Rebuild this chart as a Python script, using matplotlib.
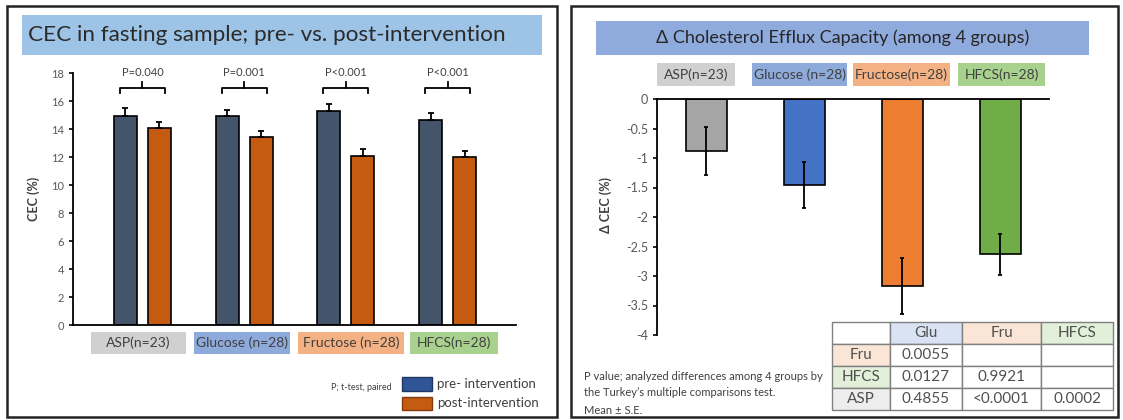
import numpy as np
import matplotlib
matplotlib.use("Agg")
import matplotlib.pyplot as plt
from matplotlib.patches import Rectangle

plt.rcParams["font.family"] = ["Lato", "DejaVu Sans"]

# =========================
# DATA - left panel (CEC, pre vs post)
# =========================
groups_left = ["ASP(n=23)", "Glucose (n=28)", "Fructose (n=28)", "HFCS(n=28)"]
pre_cec = [14.93, 14.93, 15.29, 14.64]
pre_se = [0.60, 0.45, 0.50, 0.50]
post_cec = [14.07, 13.43, 12.07, 12.00]
post_se = [0.45, 0.42, 0.50, 0.43]
p_paired = ["P=0.040", "P=0.001", "P<0.001", "P<0.001"]

# =========================
# DATA - right panel (delta CEC)
# =========================
groups_right = ["ASP(n=23)", "Glucose (n=28)", "Fructose(n=28)", "HFCS(n=28)"]
delta_cec = [-0.88, -1.46, -3.17, -2.63]
delta_se = [0.40, 0.39, 0.47, 0.35]

tbl_cols = ["Glu", "Fru", "HFCS"]
tbl_rows = ["Fru", "HFCS", "ASP"]
tbl_vals = [["0.0055", "", ""],
            ["0.0127", "0.9921", ""],
            ["0.4855", "<0.0001", "0.0002"]]

# colours
label_fill = ["#d0d0d0", "#8eaadb", "#f4b183", "#a9d18e"]
delta_colors = ["#a5a5a5", "#4472c4", "#ed7d31", "#70ad47"]
pre_color = "#44546a"
post_color = "#c55a11"
tick_grey = "#595959"
text_dark = "#404040"

# =========================
# FIGURE (pixel helpers)
# =========================
W, H = 1123, 420
fig = plt.figure(figsize=(W / 100, H / 100), dpi=100)


def fbox(x0, y0, x1, y1):
    return [x0 / W, 1 - y1 / H, (x1 - x0) / W, (y1 - y0) / H]


def rect(x0, y0, x1, y1, **kw):
    fig.patches.append(Rectangle((x0 / W, 1 - y1 / H), (x1 - x0) / W, (y1 - y0) / H,
                                 transform=fig.transFigure, **kw))


def ftext(x, y, s, **kw):
    fig.text(x / W, 1 - y / H, s, **kw)


# panel frames
rect(7, 6, 557, 417, fill=False, lw=1.8, ec="#222222")
rect(571, 6, 1118, 417, fill=False, lw=1.8, ec="#222222")

# =========================
# LEFT PANEL
# =========================
rect(22, 15, 542, 55, fc="#9dc3e6", ec="none")
ftext(28, 35, "CEC in fasting sample; pre- vs. post-intervention",
      fontsize=16.2, va="center", color="#2b2b2b")

ax1 = fig.add_axes(fbox(73, 73, 516, 325))
x = np.arange(len(groups_left))
off, bw = 0.167, 0.226
zeros = np.zeros(len(x))
ax1.bar(x - off, pre_cec, bw, color=pre_color, edgecolor="black", lw=1.2,
        yerr=[zeros, pre_se], capsize=2, error_kw=dict(elinewidth=1.3, capthick=1.3))
ax1.bar(x + off, post_cec, bw, color=post_color, edgecolor="black", lw=1.2,
        yerr=[zeros, post_se], capsize=2, error_kw=dict(elinewidth=1.3, capthick=1.3))

for i, p in enumerate(p_paired):
    xl, xr = i - 0.22, i + 0.22
    ax1.plot([xl, xl, xr, xr], [16.57, 16.93, 16.93, 16.57], color="black", lw=1.3, clip_on=False)
    ax1.plot([i, i], [16.93, 17.36], color="black", lw=1.3, clip_on=False)
    ax1.text(i, 18.0, p, ha="center", va="center", fontsize=8, color=text_dark)

ax1.set_xlim(-0.683, 3.673)
ax1.set_ylim(0, 18)
ax1.set_yticks(np.arange(0, 19, 2))
ax1.set_xticks([])
ax1.tick_params(axis="y", labelsize=8, labelcolor=tick_grey, length=3, width=1.2)
for s in ["top", "right"]:
    ax1.spines[s].set_visible(False)
for s in ["left", "bottom"]:
    ax1.spines[s].set_linewidth(1.3)
ax1.set_ylabel("CEC (%)", fontsize=9, color=text_dark, fontweight="bold")
ax1.yaxis.set_label_coords(-0.075, 0.5)

left_boxes = [(91, 186), (194, 290), (298, 404), (410, 498)]
for (bx0, bx1), lab, fc in zip(left_boxes, groups_left, label_fill):
    rect(bx0, 332, bx1, 354, fc=fc, ec="none")
    ftext((bx0 + bx1) / 2, 343, lab, ha="center", va="center", fontsize=10, color=text_dark)

# legend
rect(402, 377, 432, 391, fc="#2f5597", ec="#1f3864", lw=1)
rect(402, 397, 432, 410, fc=post_color, ec="#843c0c", lw=1)
ftext(437, 384, "pre- intervention", va="center", fontsize=9.5, color=text_dark)
ftext(437, 403, "post-intervention", va="center", fontsize=9.5, color=text_dark)
ftext(392, 387, "P; t-test, paired", ha="right", va="center", fontsize=6.5, color=text_dark)

# =========================
# RIGHT PANEL
# =========================
rect(596, 21, 1089, 55, fc="#8faadc", ec="none")
ftext(843, 38, "\u0394 Cholesterol Efflux Capacity (among 4 groups)",
      ha="center", va="center", fontsize=13, color="#262626")

right_boxes = [(657, 735), (752, 847), (853, 950), (958, 1045)]
for (bx0, bx1), lab, fc in zip(right_boxes, groups_right, label_fill):
    rect(bx0, 63, bx1, 86, fc=fc, ec="none")
    ftext((bx0 + bx1) / 2, 74.5, lab, ha="center", va="center", fontsize=10, color=text_dark)

ax2 = fig.add_axes(fbox(657, 99, 1049, 335))
x2 = np.arange(len(groups_right))
ax2.bar(x2, delta_cec, 0.41, color=delta_colors, edgecolor="black", lw=1.2,
        yerr=delta_se, capsize=1.5, error_kw=dict(elinewidth=1.3, capthick=1.3))
ax2.set_xlim(-0.505, 3.495)
ax2.set_ylim(-4, 0)
yt = np.arange(-4, 0.01, 0.5)
ax2.set_yticks(yt)
ax2.set_yticklabels([f"{v:g}" for v in yt])
ax2.set_xticks([])
ax2.tick_params(axis="y", labelsize=9, labelcolor=tick_grey, length=3, width=1.2)
ax2.spines["right"].set_visible(False)
ax2.spines["bottom"].set_visible(False)
ax2.spines["left"].set_linewidth(1.3)
ax2.spines["top"].set_linewidth(1.3)
ax2.set_ylabel("\u0394 CEC (%)", fontsize=9, color=text_dark, fontweight="bold")
ax2.yaxis.set_label_coords(-0.115, 0.55)

# Tukey table
axt = fig.add_axes(fbox(832, 322, 1113, 410))
axt.axis("off")
cell_text = [[""] + tbl_cols] + [[r] + v for r, v in zip(tbl_rows, tbl_vals)]
head_fill = ["white", "#dae3f3", "#fbe5d6", "#e2f0d9"]
row_fill = ["#fbe5d6", "#e2f0d9", "#ededed"]
cell_colors = [head_fill] + [[rf, "white", "white", "white"] for rf in row_fill]
col_w = np.array([58, 72, 79, 72]) / 281
tbl = axt.table(cellText=cell_text, cellColours=cell_colors, colWidths=col_w,
                cellLoc="center", bbox=[0, 0, 1, 1])
tbl.auto_set_font_size(False)
tbl.set_fontsize(11)
for cell in tbl.get_celld().values():
    cell.set_edgecolor("#808080")
    cell.set_linewidth(1.0)
    cell.get_text().set_color("#505050")

ftext(584, 377, "P value; analyzed differences among 4 groups by", va="center", fontsize=8, color=text_dark)
ftext(584, 392, "the Turkey\u2019s multiple comparisons test.", va="center", fontsize=8, color=text_dark)
ftext(584, 410, "Mean \u00b1 S.E.", va="center", fontsize=8, color=text_dark)

fig.savefig("out.png", dpi=100)
